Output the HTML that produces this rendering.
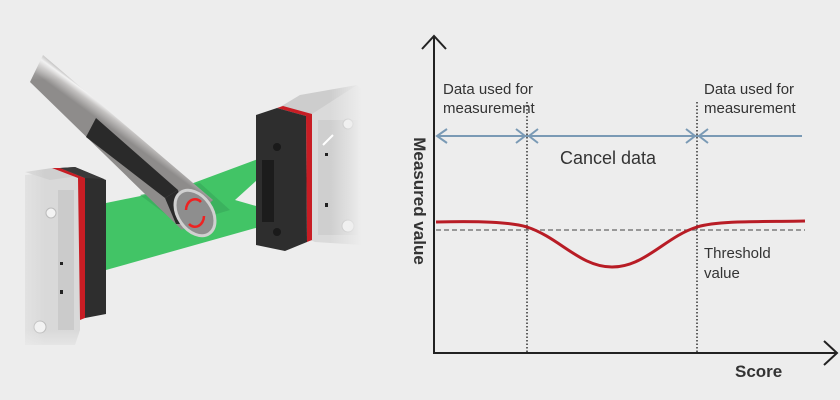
<!DOCTYPE html>
<html><head><meta charset="utf-8"><style>
html,body{margin:0;padding:0;background:#ededed;}
svg{display:block;font-family:"Liberation Sans",sans-serif;}
</style></head><body>
<svg width="840" height="400" viewBox="0 0 840 400">
<defs>
<linearGradient id="rod" gradientUnits="userSpaceOnUse" x1="44" y1="80" x2="60" y2="58">
<stop offset="0" stop-color="#8e8c8b"/><stop offset="0.35" stop-color="#c4c2c1"/><stop offset="0.55" stop-color="#f4f4f4"/><stop offset="0.72" stop-color="#959392"/><stop offset="1" stop-color="#c8c6c5"/>
</linearGradient>
<linearGradient id="fadeL" x1="0" x2="1"><stop offset="0" stop-color="#ededed"/><stop offset="1" stop-color="#ededed" stop-opacity="0"/></linearGradient>
<linearGradient id="fadeR" x1="1" x2="0"><stop offset="0" stop-color="#ededed"/><stop offset="1" stop-color="#ededed" stop-opacity="0"/></linearGradient>
<linearGradient id="fadeT" x1="0" y1="0" x2="0" y2="1"><stop offset="0" stop-color="#ededed"/><stop offset="1" stop-color="#ededed" stop-opacity="0"/></linearGradient>
<linearGradient id="fadeB" x1="0" y1="1" x2="0" y2="0"><stop offset="0" stop-color="#ededed"/><stop offset="1" stop-color="#ededed" stop-opacity="0"/></linearGradient>
</defs>
<rect width="840" height="400" fill="#ededed"/>
<!-- left sensor -->
<polygon points="25,175 52,172 80,178 80,330 75,345 25,345" fill="#d9d9d9"/>
<polygon points="25,172 52,168 78,176 50,180" fill="#cfcfcf"/>
<rect x="58" y="190" width="16" height="140" fill="#cbcbcb"/>
<rect x="60" y="262" width="3" height="3" fill="#222"/>
<rect x="60" y="290" width="3" height="4" fill="#222"/>
<circle cx="51" cy="213" r="5" fill="#f3f3f3" stroke="#bbb"/>
<circle cx="40" cy="327" r="6" fill="#f3f3f3" stroke="#bbb"/>
<polygon points="52,168 60,168 85,178 85,318 80,320 78,178" fill="#c81d24"/>
<polygon points="60,168 75,167 106,180 106,314 85,318 85,178" fill="#2e2e2e"/>
<polygon points="60,168 75,167 104,179 85,178" fill="#3a3a3a"/>
<rect x="0" y="165" width="45" height="185" fill="url(#fadeL)"/>
<rect x="0" y="330" width="120" height="25" fill="url(#fadeB)"/>
<!-- green beams -->
<polygon points="106,203 180,188 277,152 277,162 235,200 277,212 277,222 106,270" fill="#42c466"/>
<polygon points="140,195 200,183 230,210 180,225" fill="#3aae5c" opacity="0.8"/>
<!-- rod -->
<polygon points="30,82 43,55 213,200 182,230" fill="url(#rod)"/>
<polygon points="86,137 96,118 178,190 165,198" fill="#2a2a2a"/>
<polygon points="165,198 178,190 186,224 176,224" fill="#2a2a2a"/>
<rect x="0" y="40" width="120" height="40" fill="url(#fadeT)"/>
<ellipse cx="195" cy="213" rx="17" ry="25" transform="rotate(-35 195 213)" fill="#8e8e8e" stroke="#d0d0d0" stroke-width="3"/>
<path d="M186 210 a9 11 0 0 1 15 -8" stroke="#e22" stroke-width="2.5" fill="none"/>
<path d="M204 216 a9 11 0 0 1 -15 8" stroke="#e22" stroke-width="2.5" fill="none"/>
<!-- right sensor -->
<polygon points="280,107 357,85 362,90 362,245 315,242 310,240" fill="#dadada"/>
<polygon points="280,107 300,95 357,85 312,114" fill="#cdcdcd"/>
<rect x="318" y="120" width="40" height="115" fill="#cfcfcf"/>
<rect x="325" y="153" width="3" height="3" fill="#222"/>
<rect x="325" y="203" width="3" height="4" fill="#222"/>
<circle cx="348" cy="124" r="5" fill="#f3f3f3" stroke="#bbb"/>
<circle cx="348" cy="226" r="6" fill="#f3f3f3" stroke="#bbb"/>
<line x1="323" y1="145" x2="333" y2="135" stroke="#fff" stroke-width="2"/>
<polygon points="277,108 283,106 312,114 312,240 307,242 306,116" fill="#c81d24"/>
<polygon points="256,115 277,108 306,116 307,242 285,251 256,245" fill="#2e2e2e"/>
<rect x="262" y="160" width="12" height="62" fill="#1c1c1c"/>
<circle cx="277" cy="147" r="4" fill="#1a1a1a"/>
<circle cx="277" cy="232" r="4" fill="#1a1a1a"/>
<rect x="330" y="80" width="32" height="175" fill="url(#fadeR)"/>
<!-- chart -->
<g stroke="#222" stroke-width="2" fill="none">
<line x1="434" y1="36" x2="434" y2="354"/>
<polyline points="422,49 434,36 446,49"/>
<line x1="433" y1="353" x2="837" y2="353"/>
<polyline points="824,341 837,353 824,365"/>
</g>
<g stroke="#333" stroke-width="1.5" stroke-dasharray="1.5,2">
<line x1="527" y1="102" x2="527" y2="352"/>
<line x1="697" y1="102" x2="697" y2="352"/>
</g>
<g stroke="#7a9ab5" stroke-width="2" fill="none">
<line x1="437" y1="136" x2="802" y2="136"/>
<polyline points="447,129 437,136 447,143"/>
<polyline points="516,129 525,136 516,143"/>
<polyline points="538,129 529,136 538,143"/>
<polyline points="686,129 695,136 686,143"/>
<polyline points="708,129 699,136 708,143"/>
</g>
<line x1="436" y1="230" x2="805" y2="230" stroke="#666" stroke-width="1.2" stroke-dasharray="5,3"/>
<path d="M436 222 C480 221 510 222 527 227 C560 238 580 267 612 267 C645 267 665 237 697 227 C720 220 770 222 805 221" stroke="#b81c25" stroke-width="3" fill="none"/>
<g fill="#333" font-size="15">
<text x="443" y="94">Data used for</text>
<text x="443" y="113">measurement</text>
<text x="704" y="94">Data used for</text>
<text x="704" y="113">measurement</text>
<text x="704" y="258">Threshold</text>
<text x="704" y="278">value</text>
<text x="560" y="164" font-size="18">Cancel data</text>
<text x="735" y="377" font-size="17" font-weight="bold">Score</text>
<text transform="translate(414,201) rotate(90)" text-anchor="middle" font-size="17" font-weight="bold">Measured value</text>
</g>
</svg>
</body></html>
